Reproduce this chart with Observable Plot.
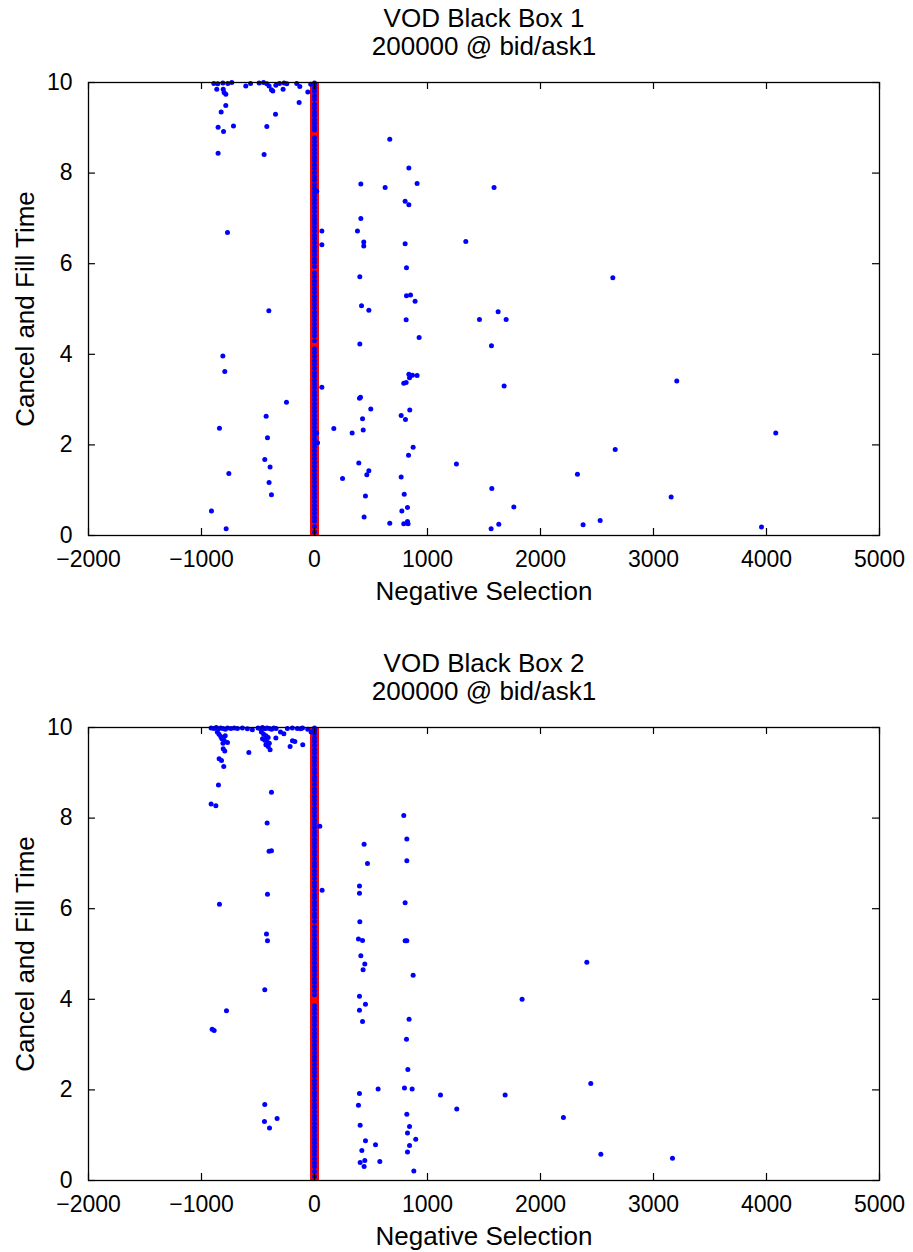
<!DOCTYPE html>
<html>
<head>
<meta charset="utf-8">
<script src="https://cdn.jsdelivr.net/npm/d3@7"></script>
<script src="https://cdn.jsdelivr.net/npm/@observablehq/plot@0.6"></script>
<style>
  html, body { margin: 0; padding: 0; background: #fff; }
  #chart svg { display: block; }
</style>
</head>
<body>
<div id="chart"></div>
<script>
// ---------- shared axis settings ----------
const xTicks = [-2000, -1000, 0, 1000, 2000, 3000, 4000, 5000];
const yTicks = [0, 2, 4, 6, 8, 10];
const xDomain = [-2000, 5000];
const yDomain = [0, 10];
const xLabel = "Negative Selection";
const yLabel = "Cancel and Fill Time";

// ---------- panel titles ----------
const titles1 = ["VOD Black Box 1", "200000 @ bid/ask1"];
const titles2 = ["VOD Black Box 2", "200000 @ bid/ask1"];

// ---------- red series (x = 0, spanning the full range) ----------
const redX = [0];
const redY = [0, 10];

// ---------- panel 1: blue scatter ----------
const box1X = [
  -891, -856, -811, -767, -732, -865, -808, -800, -785, -785, -826, -853, -805, -717, -853,
  -608, -566, -490, -451, -422, -402, -381, -369, -342, -310, -269, -245, -278, -345, -422,
  -446, -157, -130, -136, -59, -33,
  -770, -404, -811, -794, -248, -428, -841, -416, -440, -393, -758, -402, -381, -912, -782,
  65, 65, 65, 27, 20, 20,
  171, 248, 333, 380, 392, 398, 401, 401, 407, 410, 410, 416, 425, 431, 436, 436, 439, 451,
  463, 481, 481, 498, 625, 666, 666, 767, 767, 773, 790, 790, 794, 802, 802, 805, 811, 811,
  814, 814, 823, 823, 828, 832, 835, 835, 835, 841, 843, 850, 867, 873, 890, 908, 908, 926,
  1256, 1339, 1460, 1563, 1566, 1569, 1589, 1625, 1631, 1678, 1696, 1764, 2327, 2377, 2528,
  2640, 2661, 3156, 3206, 3956, 4082
];
const box1Y = [
  9.98, 9.97, 9.99, 9.98, 10.0, 9.85, 9.85, 9.78, 9.74, 9.49, 9.35, 9.01, 8.92, 9.04, 8.44,
  9.92, 9.98, 9.99, 10.0, 9.97, 9.92, 9.84, 9.81, 9.94, 9.98, 9.99, 9.97, 9.85, 9.30, 9.03,
  8.41, 9.98, 9.91, 9.56, 9.79, 9.96,
  6.69, 4.96, 3.96, 3.62, 2.94, 2.63, 2.37, 2.16, 1.68, 1.51, 1.37, 1.17, 0.90, 0.54, 0.15,
  6.72, 6.42, 3.27, 2.05, 7.60, 2.26,
  2.36, 1.26, 2.26, 6.72, 1.60, 3.03, 5.71, 4.23, 3.05, 7.76, 7.0, 5.07, 2.58, 2.33, 6.48, 6.39, 0.41, 0.87,
  1.34, 1.43, 4.97, 2.79, 7.68, 8.75, 0.27, 2.65, 1.29, 0.54, 3.36, 0.26, 0.91, 7.38, 6.44, 2.56, 4.76, 3.38,
  5.91, 5.29, 0.62, 0.31, 0.26, 1.77, 8.11, 7.30, 3.56, 3.48, 2.77, 5.31, 3.54, 1.95, 5.17, 7.77, 3.53, 4.37,
  1.58, 6.49, 4.77, 0.15, 4.19, 1.04, 7.68, 4.94, 0.25, 3.30, 4.77, 0.63, 1.35, 0.24, 0.33,
  5.69, 1.90, 0.85, 3.41, 0.19, 2.26
];
// blue points sitting on the x = 0 column
const col1Y = [
  9.99, 9.95, 9.88, 9.8, 9.71, 9.63, 9.52, 9.44, 9.35, 9.27, 9.18, 9.1, 9.02, 8.95, 8.78, 8.7,
  8.61, 8.52, 8.44, 8.35, 8.27, 8.18, 8.1, 8.01, 7.92, 7.84, 7.75, 7.66, 7.58, 7.5, 7.41, 7.33,
  7.24, 7.15, 7.06, 6.98, 6.9, 6.81, 6.72, 6.63, 6.55, 6.46, 6.37, 6.28, 6.2, 6.11, 6.03, 5.94,
  5.8, 5.71, 5.62, 5.54, 5.45, 5.37, 5.28, 5.2, 5.11, 5.02, 4.93, 4.85, 4.76, 4.67, 4.58, 4.5,
  4.41, 4.3, 4.12, 4.04, 3.95, 3.86, 3.78, 3.69, 3.6, 3.52, 3.43, 3.35, 3.26, 3.17, 3.09, 3.0,
  2.91, 2.82, 2.74, 2.65, 2.56, 2.48, 2.39, 2.3, 2.22, 2.13, 2.04, 1.96, 1.87, 1.78, 1.7, 1.61,
  1.53, 1.44, 1.35, 1.27, 1.18, 1.09, 1.01, 0.92, 0.84, 0.75, 0.66, 0.58, 0.49, 0.4, 0.32, 0.2, 0.08
];

// ---------- panel 2: blue scatter ----------
const box2X = [
  -915, -890, -870, -850, -830, -810, -790, -770, -740, -710, -860, -845, -830, -820, -800,
  -810, -790, -770, -808, -794, -844, -823, -803, -850, -915, -873, -581, -682, -638, -594, -550,
  -500, -480, -460, -440, -420, -400, -380, -360, -340, -470, -450, -430, -410, -440, -420,
  -400, -430, -410, -460, -393, -342, -301, -271, -381, -419, -216, -195, -174, -104, -240,
  -196, -152, -122, -60, -30, -106,
  -402, -381, -416, -841, -425, -416, -440, -779, -906, -888, -440, -443, -398, -331,
  47, 67,
  389, 389, 398, 398, 398, 398, 398, 401, 404, 404, 410, 419, 425, 425, 430, 439, 439, 445,
  445, 451, 451, 469, 540, 563, 578, 790, 796, 802, 802, 817, 814, 817, 817, 817, 823, 823,
  826, 837, 841, 841, 864, 873, 879, 896, 1115, 1259, 1687, 1837, 2203, 2410, 2445, 2534, 3168
];
const box2Y = [
  9.99, 9.98, 10.0, 9.97, 9.99, 9.98, 9.96, 9.99, 9.98, 9.99, 9.9, 9.85, 9.8, 9.75, 9.72,
  9.65, 9.82, 9.67, 9.53, 9.48, 9.31, 9.27, 9.14, 8.73, 8.31, 8.27, 9.45, 9.98, 9.99, 9.97, 9.95,
  9.99, 9.98, 10.0, 9.97, 9.99, 9.98, 9.96, 9.99, 9.98, 9.9, 9.85, 9.82, 9.78, 9.72, 9.68,
  9.65, 9.62, 9.58, 9.75, 9.51, 9.77, 9.90, 9.86, 8.57, 7.89, 9.58, 9.71, 9.69, 9.62, 9.98,
  9.99, 9.98, 9.97, 9.96, 9.9, 9.99,
  7.27, 7.28, 6.32, 6.10, 5.44, 5.29, 4.21, 3.75, 3.34, 3.31, 1.68, 1.30, 1.16, 1.37,
  7.82, 6.41,
  5.33, 1.66, 6.50, 6.34, 4.07, 3.76, 1.92, 5.71, 1.22, 0.40, 4.96, 0.66, 5.30, 3.51, 4.65, 7.42, 0.31, 4.78,
  0.44, 3.89, 0.88, 7.0, 0.79, 2.02, 0.42, 8.06, 2.04, 6.13, 5.29, 5.29, 3.12, 7.54, 7.06, 1.46, 1.05, 0.63,
  2.45, 3.56, 1.19, 0.77, 2.02, 4.53, 0.21, 0.91, 1.89, 1.58, 1.89, 4.00, 1.39, 4.82, 2.14, 0.58, 0.49
];
const col2Y = [
  9.99, 9.94, 9.86, 9.77, 9.69, 9.6, 9.51, 9.43, 9.34, 9.26, 9.17, 9.08, 9.0, 8.91, 8.83, 8.74,
  8.65, 8.57, 8.48, 8.4, 8.31, 8.22, 8.14, 8.05, 7.96, 7.88, 7.79, 7.7, 7.62, 7.53, 7.45, 7.36,
  7.27, 7.19, 7.1, 7.01, 6.93, 6.84, 6.76, 6.67, 6.58, 6.5, 6.41, 6.32, 6.24, 6.15, 6.07, 5.98,
  5.89, 5.81, 5.72, 5.6, 5.5, 5.42, 5.33, 5.24, 5.15, 5.06, 4.98, 4.89, 4.8, 4.71, 4.63, 4.54,
  4.45, 4.37, 4.28, 4.19, 4.1, 3.86, 3.78, 3.69, 3.6, 3.52, 3.43, 3.34, 3.25, 3.17, 3.08, 2.99,
  2.91, 2.82, 2.73, 2.65, 2.56, 2.47, 2.39, 2.3, 2.21, 2.13, 2.04, 1.95, 1.87, 1.78, 1.69, 1.61,
  1.52, 1.43, 1.35, 1.26, 1.17, 1.09, 1.0, 0.91, 0.83, 0.74, 0.65, 0.57, 0.48, 0.39, 0.31, 0.2, 0.09
];

// ---------- drawing ----------
const W = 913;
const mL = 88, mR = 34, mT = 82;
const FONT = "Liberation Sans, Arial, Helvetica, sans-serif";
const FS = 26;      // titles and axis labels
const FT = 23;      // tick labels
const TICK = 7;
const fmt = d3.format("d");

function panel(titles, xs, ys, colY, height, mB) {
  const pts = xs.map((x, i) => ({x, y: ys[i]}));
  const col = colY.map(y => ({x: 0, y}));
  const fw = W - mL - mR;
  const fh = height - mT - mB;
  return Plot.plot({
    width: W,
    height,
    marginTop: mT,
    marginBottom: mB,
    marginLeft: mL,
    marginRight: mR,
    style: {fontFamily: FONT, fontSize: FT + "px", color: "#000", background: "#fff", overflow: "visible"},
    x: {domain: xDomain},
    y: {domain: yDomain},
    marks: [
      Plot.ruleX(redX, {x: d => d, y1: redY[0], y2: redY[1], stroke: "#ff0000", strokeWidth: 9}),
      Plot.dot(col, {x: "x", y: "y", r: 2.5, fill: "#0000ff", stroke: null}),
      Plot.dot(pts, {x: "x", y: "y", r: 2.5, fill: "#0000ff", stroke: null}),
      Plot.frame({stroke: "#000", strokeWidth: 1.3}),
      Plot.ruleX(xTicks, {x: d => d, insetTop: fh - TICK, stroke: "#000", strokeWidth: 1.2}),
      Plot.ruleX(xTicks, {x: d => d, insetBottom: fh - TICK, stroke: "#000", strokeWidth: 1.2}),
      Plot.ruleY(yTicks, {y: d => d, insetRight: fw - TICK, stroke: "#000", strokeWidth: 1.2}),
      Plot.ruleY(yTicks, {y: d => d, insetLeft: fw - TICK, stroke: "#000", strokeWidth: 1.2}),
      Plot.axisX({ticks: xTicks, tickFormat: fmt, tickSize: 0, tickPadding: 15, label: null, fontSize: FT}),
      Plot.axisY({ticks: yTicks, tickFormat: fmt, tickSize: 0, tickPadding: 16, label: null, fontSize: FT}),
      Plot.text([xLabel], {frameAnchor: "bottom", dy: 56, text: d => d, fontSize: FS, textAnchor: "middle", lineAnchor: "middle"}),
      Plot.text([yLabel], {frameAnchor: "left", dx: -63, rotate: -90, text: d => d, fontSize: FS, textAnchor: "middle", lineAnchor: "middle"}),
      Plot.text([titles[0]], {frameAnchor: "top", dy: -64, text: d => d, fontSize: FS, textAnchor: "middle", lineAnchor: "middle"}),
      Plot.text([titles[1]], {frameAnchor: "top", dy: -36, text: d => d, fontSize: FS, textAnchor: "middle", lineAnchor: "middle"})
    ]
  });
}

const root = document.getElementById("chart");
root.appendChild(panel(titles1, box1X, box1Y, col1Y, 645, 110));
root.appendChild(panel(titles2, box2X, box2Y, col2Y, 607, 72));
</script>
</body>
</html>
